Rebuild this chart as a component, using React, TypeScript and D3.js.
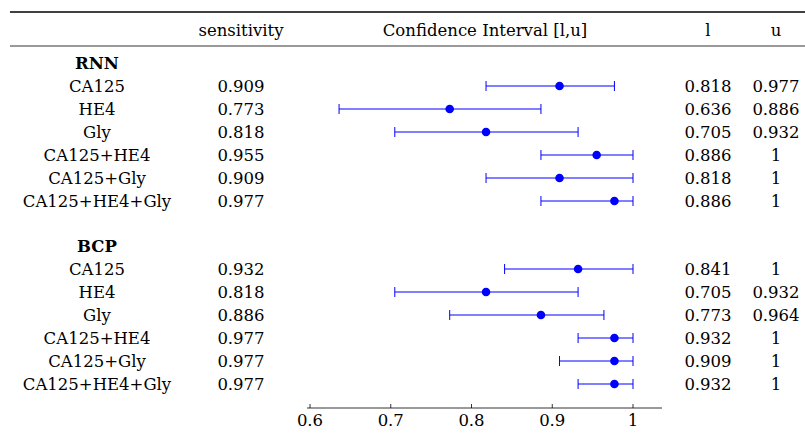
import * as d3 from "d3"

const groups = ["RNN", "BCP"]
const markers = ["CA125", "HE4", "Gly", "CA125+HE4", "CA125+Gly", "CA125+HE4+Gly"]
const rnnSens = [0.909, 0.773, 0.818, 0.955, 0.909, 0.977]
const rnnLow = [0.818, 0.636, 0.705, 0.886, 0.818, 0.886]
const rnnUp = [0.977, 0.886, 0.932, 1, 1, 1]
const bcpSens = [0.932, 0.818, 0.886, 0.977, 0.977, 0.977]
const bcpLow = [0.841, 0.705, 0.773, 0.932, 0.909, 0.932]
const bcpUp = [1, 0.932, 0.964, 1, 1, 1]
const ticks = [0.6, 0.7, 0.8, 0.9, 1]

const W = 805
const H = 445
const font = "'DejaVu Serif', serif"
const blue = "#0000ff"

export default function App() {
  const x = d3.scaleLinear().domain([0.6, 1]).range([310, 633])
  const fmt = (v: number) => (v === 1 ? "1" : v.toFixed(3))
  const blocks = [
    { name: groups[0], s: rnnSens, l: rnnLow, u: rnnUp, top: 63 },
    { name: groups[1], s: bcpSens, l: bcpLow, u: bcpUp, top: 246 },
  ]
  const step = 23
  return (
    <svg width={W} height={H} style={{ position: "absolute", left: 0, top: 0 }} fontFamily={font} fontSize={16.5}>
      <line x1={10} x2={805} y1={12} y2={12} stroke="#000" strokeWidth={1.4} />
      <line x1={10} x2={805} y1={46} y2={46} stroke="#000" strokeWidth={0.8} />
      <g textAnchor="middle" dominantBaseline="central">
        <text x={241} y={30}>sensitivity</text>
        <text x={485} y={30}>Confidence Interval [l,u]</text>
        <text x={708} y={30}>l</text>
        <text x={776} y={30}>u</text>
      </g>
      {blocks.map((b) => (
        <g key={b.name} dominantBaseline="central">
          <text x={97} y={b.top} textAnchor="middle" fontWeight="bold">{b.name}</text>
          {markers.map((m, i) => {
            const y = b.top + step * (i + 1)
            return (
              <g key={m}>
                <text x={97} y={y} textAnchor="middle">{m}</text>
                <text x={241} y={y} textAnchor="middle">{b.s[i].toFixed(3)}</text>
                <text x={708} y={y} textAnchor="middle">{fmt(b.l[i])}</text>
                <text x={776} y={y} textAnchor="middle">{fmt(b.u[i])}</text>
                <line x1={x(b.l[i])} x2={x(b.u[i])} y1={y} y2={y} stroke={blue} strokeWidth={1} />
                <line x1={x(b.l[i])} x2={x(b.l[i])} y1={y - 5} y2={y + 5} stroke={blue} strokeWidth={1} />
                <line x1={x(b.u[i])} x2={x(b.u[i])} y1={y - 5} y2={y + 5} stroke={blue} strokeWidth={1} />
                <circle cx={x(b.s[i])} cy={y} r={4.3} fill={blue} />
              </g>
            )
          })}
        </g>
      ))}
      <line x1={307} x2={662} y1={408} y2={408} stroke="#000" strokeWidth={0.8} />
      {ticks.map((t) => (
        <g key={t}>
          <line x1={x(t)} x2={x(t)} y1={408} y2={404} stroke="#000" strokeWidth={0.8} />
          <text x={x(t)} y={420} textAnchor="middle" dominantBaseline="central">{t === 1 ? "1" : t.toFixed(1)}</text>
        </g>
      ))}
    </svg>
  )
}
